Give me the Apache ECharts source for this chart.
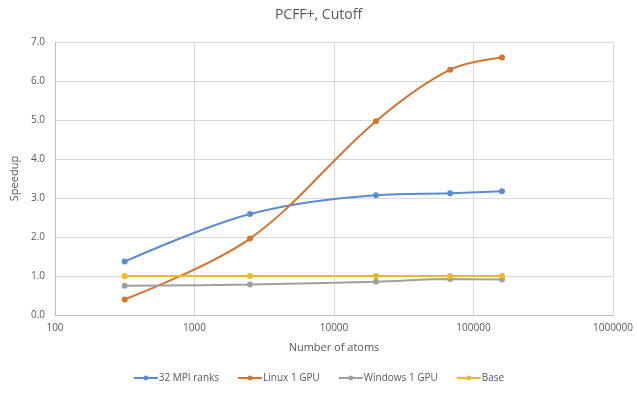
<!DOCTYPE html>
<html>
<head>
<meta charset="utf-8">
<script src="https://cdn.jsdelivr.net/npm/echarts@6/dist/echarts.min.js"></script>
<style>
  html, body { margin: 0; padding: 0; background: #fff; }
  #chart { width: 637px; height: 397px; }
</style>
</head>
<body>
<div id="chart"></div>
<script>
// number of atoms (x, log scale)
var atoms = [316, 2500, 20000, 68000, 160000];
// speedup per series
var mpi32 = [1.37, 2.59, 3.07, 3.12, 3.17];
var linuxGpu = [0.40, 1.96, 4.97, 6.29, 6.60];
var windowsGpu = [0.75, 0.78, 0.855, 0.92, 0.91];
var base = [1.0, 1.0, 1.0, 1.0, 1.0];

var seriesNames = ['32 MPI ranks', 'Linux 1 GPU', 'Windows 1 GPU', 'Base'];
var seriesColors = ['#5B8BD3', '#D4742E', '#A0A0A0', '#EDB92A'];
var seriesData = [mpi32, linuxGpu, windowsGpu, base];

function pairs(ys) {
    return atoms.map(function (x, i) { return [x, ys[i]]; });
}

var chart = echarts.init(document.getElementById('chart'));
var textColor = '#595959';
var font = 'Open Sans, Liberation Sans, sans-serif';

chart.setOption({
    animation: false,
    backgroundColor: '#ffffff',
    title: {
        text: 'PCFF+, Cutoff',
        left: 'center',
        top: 3,
        textStyle: { color: textColor, fontSize: 14, fontWeight: 'normal', fontFamily: font }
    },
    legend: {
        bottom: 9,
        left: 'center',
        itemWidth: 24,
        itemHeight: 6,
        itemGap: 18,
        textStyle: { color: textColor, fontSize: 10, fontFamily: font, padding: [0, 0, 0, -4] },
        data: seriesNames
    },
    grid: { left: 55, right: 24, top: 42, bottom: 82 },
    xAxis: {
        type: 'log',
        logBase: 10,
        min: 100,
        max: 1000000,
        name: 'Number of atoms',
        nameLocation: 'middle',
        nameGap: 27,
        nameTextStyle: { color: textColor, fontSize: 11, fontFamily: font },
        axisLine: { lineStyle: { color: '#BFBFBF' } },
        axisTick: { show: false },
        axisLabel: {
            color: textColor, fontSize: 10, fontFamily: font, margin: 8,
            formatter: function (v) { return String(Math.round(v)); }
        },
        splitLine: { show: true, lineStyle: { color: '#D9D9D9' } },
        minorTick: { show: false }
    },
    yAxis: {
        type: 'value',
        min: 0,
        max: 7,
        interval: 1,
        name: 'Speedup',
        nameLocation: 'middle',
        nameGap: 25,
        nameTextStyle: { color: textColor, fontSize: 11, fontFamily: font },
        axisLine: { show: true, lineStyle: { color: '#BFBFBF' } },
        axisTick: { show: false },
        axisLabel: {
            color: textColor, fontSize: 10, fontFamily: font, margin: 10,
            formatter: function (v) { return v.toFixed(1); }
        },
        splitLine: { show: true, lineStyle: { color: '#D9D9D9' } }
    },
    series: seriesNames.map(function (name, i) {
        return {
            name: name,
            type: 'line',
            smooth: 0.35,
            data: pairs(seriesData[i]),
            symbol: 'circle',
            symbolSize: 6,
            itemStyle: { color: seriesColors[i] },
            lineStyle: { color: seriesColors[i], width: 2 }
        };
    })
});
</script>
</body>
</html>
